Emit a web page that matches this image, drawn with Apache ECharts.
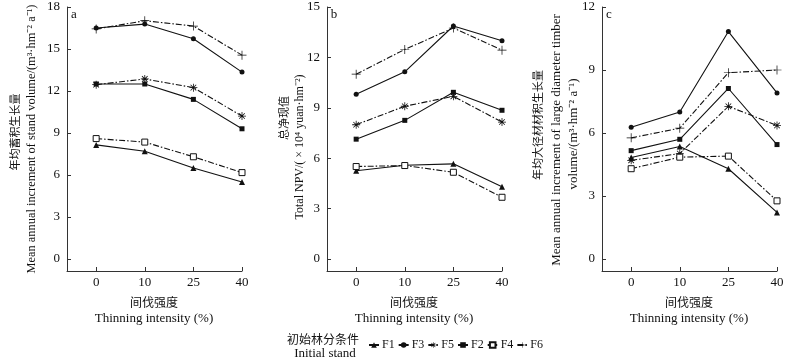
<!DOCTYPE html>
<html><head><meta charset="utf-8">
<script src="https://cdn.jsdelivr.net/npm/echarts@6/dist/echarts.min.js"></script>
<style>html,body{margin:0;padding:0;background:#fff}#c{width:800px;height:363px}</style>
</head><body><div id="c"></div>
<script>
// ---- data ----
const thinning = ['0', '10', '25', '40'];
const seriesNames = ['F1', 'F3', 'F5', 'F2', 'F4', 'F6'];
// panel a: mean annual increment of stand volume
const aF1 = [8.15, 7.7, 6.5, 5.5];
const aF3 = [16.5, 16.78, 15.73, 13.35];
const aF5 = [12.45, 12.86, 12.24, 10.21];
const aF2 = [12.5, 12.5, 11.4, 9.3];
const aF4 = [8.6, 8.35, 7.3, 6.17];
const aF6 = [16.43, 17.02, 16.64, 14.56];
// panel b: total NPV
const bF1 = [5.25, 5.58, 5.66, 4.3];
const bF3 = [9.8, 11.14, 13.87, 12.99];
const bF5 = [7.99, 9.09, 9.68, 8.15];
const bF2 = [7.13, 8.25, 9.92, 8.85];
const bF4 = [5.5, 5.56, 5.16, 3.67];
const bF6 = [11.0, 12.47, 13.75, 12.43];
// panel c: mean annual increment of large diameter timber volume
const cF1 = [4.83, 5.36, 4.3, 2.22];
const cF3 = [6.27, 7.0, 10.83, 7.91];
const cF5 = [4.7, 5.02, 7.27, 6.36];
const cF2 = [5.16, 5.7, 8.12, 5.45];
const cF4 = [4.3, 4.85, 4.9, 2.77];
const cF6 = [5.77, 6.23, 8.87, 9.0];
const yTicksA = [0, 3, 6, 9, 12, 15, 18];
const yTicksB = [0, 3, 6, 9, 12, 15];
const yTicksC = [0, 3, 6, 9, 12];

// ---- styles ----
const SERIF = 'Liberation Serif, Noto Sans CJK SC, serif';
const INK = '#111';
const AX = '#333';
const starPath = 'path://M0 9L20 9L20 11L0 11Z M9 0L11 0L11 20L9 20Z M3.7 2.3L17.7 16.3L16.3 17.7L2.3 3.7Z M16.3 2.3L17.7 3.7L3.7 17.7L2.3 16.3Z';
const plusPath = 'path://M0 9.2L20 9.2L20 10.8L0 10.8Z M9.2 0L10.8 0L10.8 20L9.2 20Z';
const dashDot = [6, 2, 1.5, 2];
const styles = {
  F1: {symbol: 'triangle', symbolSize: 6, fill: INK, dash: 'solid'},
  F3: {symbol: 'circle', symbolSize: 5, fill: INK, dash: 'solid'},
  F5: {symbol: starPath, symbolSize: 8, fill: INK, dash: dashDot},
  F2: {symbol: 'rect', symbolSize: 5, fill: INK, dash: 'solid'},
  F4: {symbol: 'rect', symbolSize: 6, fill: '#fff', dash: dashDot},
  F6: {symbol: plusPath, symbolSize: 9, fill: INK, dash: dashDot}
};
const panels = [
  {F1: aF1, F3: aF3, F5: aF5, F2: aF2, F4: aF4, F6: aF6, min: -0.86, max: 18, ticks: yTicksA, left: 67},
  {F1: bF1, F3: bF3, F5: bF5, F2: bF2, F4: bF4, F6: bF6, min: -0.72, max: 15, ticks: yTicksB, left: 327},
  {F1: cF1, F3: cF3, F5: cF5, F2: cF2, F4: cF4, F6: cF6, min: -0.57, max: 12, ticks: yTicksC, left: 602}
];

const grid = [], xAxis = [], yAxis = [], series = [];
panels.forEach((p, i) => {
  grid.push({left: p.left, top: 7, width: 175, height: 264});
  xAxis.push({
    type: 'value', gridIndex: i, min: -0.6, max: 3,
    axisLine: {onZero: false, lineStyle: {color: AX, width: 1}},
    axisTick: {show: true, inside: true, length: 4, customValues: [0, 1, 2, 3], lineStyle: {color: AX}},
    axisLabel: {customValues: [0, 1, 2, 3], formatter: v => thinning[Math.round(v)], fontFamily: SERIF, fontSize: 13, color: INK, margin: 5},
    splitLine: {show: false}
  });
  yAxis.push({
    type: 'value', gridIndex: i, min: p.min, max: p.max,
    axisLine: {show: true, onZero: false, lineStyle: {color: AX, width: 1}},
    axisTick: {show: true, inside: true, length: 4, customValues: p.ticks, lineStyle: {color: AX}},
    axisLabel: {customValues: p.ticks, fontFamily: SERIF, fontSize: 13, color: INK, margin: 7},
    splitLine: {show: false}
  });
  seriesNames.forEach(n => {
    const s = styles[n];
    series.push({
      name: n, type: 'line', xAxisIndex: i, yAxisIndex: i,
      data: p[n].map((v, k) => [k, v]),
      symbol: s.symbol, symbolSize: s.symbolSize, showAllSymbol: true,
      itemStyle: {color: s.fill, borderColor: INK, borderWidth: n === 'F4' ? 1 : 0},
      lineStyle: {color: INK, width: 1.1, type: s.dash},
      emphasis: {disabled: true}, animation: false, z: 3
    });
  });
});

function txt(x, y, text, size, opts) {
  opts = opts || {};
  return {
    type: 'text', x: x, y: y, rotation: opts.rot || 0, silent: true,
    style: {
      text: text, fill: INK, font: size + 'px ' + (opts.family || SERIF),
      textAlign: opts.align || 'center', textVerticalAlign: 'middle',
      align: opts.align || 'center', verticalAlign: 'middle'
    }
  };
}
const R = Math.PI / 2;
const CJK = 'Noto Sans CJK SC';
const graphic = [
  // panel letters
  txt(74, 15, 'a', 13), txt(334, 15, 'b', 13), txt(609, 15, 'c', 13),
  // y-axis names
  txt(15, 132, '年均蓄积生长量', 11, {rot: R, family: CJK}),
  txt(32, 139, 'Mean annual increment of stand volume/(m³·hm⁻² a⁻¹)', 12.4, {rot: R}),
  txt(284, 118, '总净现值', 11, {rot: R, family: CJK}),
  txt(300, 147, 'Total NPV/( × 10⁴ yuan·hm⁻²)', 12, {rot: R}),
  txt(538, 125, '年均大径材材积生长量', 11, {rot: R, family: CJK}),
  txt(557, 140, 'Mean annual increment of large diameter timber', 13, {rot: R}),
  txt(574, 134, 'volume/(m³·hm⁻² a⁻¹)', 13, {rot: R}),
  // x-axis names
  txt(154, 302, '间伐强度', 12, {family: CJK}),
  txt(154, 319, 'Thinning intensity (%)', 13),
  txt(414, 302, '间伐强度', 12, {family: CJK}),
  txt(414, 319, 'Thinning intensity (%)', 13),
  txt(689, 302, '间伐强度', 12, {family: CJK}),
  txt(689, 319, 'Thinning intensity (%)', 13),
  // legend title
  txt(323, 339, '初始林分条件', 12, {family: CJK}),
  txt(325, 354, 'Initial stand', 13)
];

const chart = echarts.init(document.getElementById('c'), null, {renderer: 'canvas'});
chart.setOption({
  backgroundColor: '#fff',
  animation: false,
  grid: grid, xAxis: xAxis, yAxis: yAxis, series: series,
  legend: {
    data: seriesNames, left: 363, top: 334, itemWidth: 10, itemHeight: 7, itemGap: 3,
    textStyle: {fontFamily: SERIF, fontSize: 12, color: INK, padding: [0, 0, 0, -2]},
    selectedMode: false
  },
  graphic: graphic
});
</script>
</body></html>
